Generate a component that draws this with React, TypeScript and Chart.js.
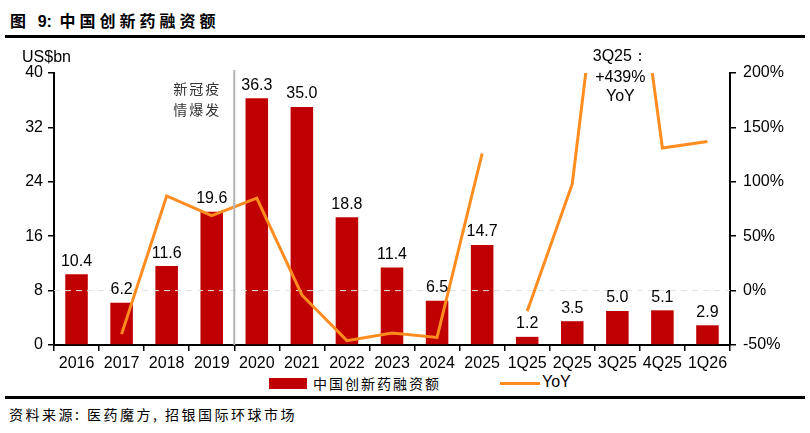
import React, { useEffect, useRef } from 'react';
import { Chart, registerables } from 'chart.js';

Chart.register(...registerables);

// Periods: full years, then quarters
const categories = ['2016', '2017', '2018', '2019', '2020', '2021', '2022', '2023', '2024', '2025', '1Q25', '2Q25', '3Q25', '4Q25', '1Q26'];
// China innovative-drug financing, US$bn
const fundingUsdBn = [10.4, 6.2, 11.6, 19.6, 36.3, 35.0, 18.8, 11.4, 6.5, 14.7, 1.2, 3.5, 5.0, 5.1, 2.9];
// Year-on-year change, %
const yoyPct = [null, -40, 87, 69, 85, -4, -46, -39, -43, 126, -19, 98, 439, 131, 137];

const leftTickStep = 8;
const rightTickStep = 50;

const RED = '#C00000';
const ORANGE = '#FF8C1E';
const FONT = 'Arial, "Liberation Sans", sans-serif';
const CJK = '"Noto Sans CJK SC", "Noto Sans", sans-serif';

const overlay = {
  id: 'overlay',
  afterDatasetDraw(chart: any, args: any) {
    if (args.index !== 0) return;
    const { ctx, chartArea, scales } = chart;
    const yz = scales.y1.getPixelForValue(0);
    ctx.save();
    ctx.strokeStyle = '#e2e2e2';
    ctx.lineWidth = 1;
    ctx.setLineDash([6, 5]);
    ctx.beginPath();
    ctx.moveTo(chartArea.left, yz);
    ctx.lineTo(chartArea.right, yz);
    ctx.stroke();
    ctx.restore();
  },
  afterDatasetsDraw(chart: any) {
    const { ctx, chartArea, scales } = chart;
    const x = scales.x;
    ctx.save();

    // separator before the pandemic years
    const sx = (x.getPixelForValue(3) + x.getPixelForValue(4)) / 2;
    ctx.strokeStyle = '#b3b3b3';
    ctx.lineWidth = 2;
    ctx.beginPath();
    ctx.moveTo(sx, chartArea.top - 3);
    ctx.lineTo(sx, chartArea.bottom);
    ctx.stroke();

    // value labels above bars
    const meta = chart.getDatasetMeta(0);
    ctx.fillStyle = '#000';
    ctx.font = `16px ${FONT}`;
    ctx.textAlign = 'center';
    ctx.textBaseline = 'bottom';
    meta.data.forEach((bar: any, i: number) => {
      ctx.fillText(fundingUsdBn[i].toFixed(1), bar.x, bar.y - 5);
    });

    // unit label
    ctx.textAlign = 'left';
    ctx.textBaseline = 'middle';
    ctx.fillText('US$bn', chartArea.left - 32, chartArea.top - 15);

    // pandemic note
    ctx.font = `14px ${CJK}`;
    ctx.textAlign = 'right';
    ctx.fillStyle = '#333';
    (ctx as any).letterSpacing = '2px';
    ctx.fillText('新冠疫', sx - 13, chartArea.top + 16);
    ctx.fillText('情爆发', sx - 13, chartArea.top + 37);
    (ctx as any).letterSpacing = '0px';

    // off-scale quarter note
    const qx = x.getPixelForValue(12) + 3;
    ctx.fillStyle = '#000';
    ctx.font = `16px ${FONT}`;
    ctx.textAlign = 'center';
    ctx.fillText('3Q25：', qx, chartArea.top - 16);
    ctx.fillText('+439%', qx, chartArea.top + 5);
    ctx.fillText('YoY', qx, chartArea.top + 24);
    ctx.restore();
  },
};

export default function App() {
  const canvasRef = useRef<HTMLCanvasElement | null>(null);

  useEffect(() => {
    const canvas = canvasRef.current;
    if (!canvas) return;
    const tickFont = { size: 16, family: FONT };
    const chart = new Chart(canvas, {
      type: 'bar',
      data: {
        labels: categories,
        datasets: [
          {
            type: 'bar',
            label: '中国创新药融资额',
            data: fundingUsdBn,
            backgroundColor: RED,
            yAxisID: 'y',
            barPercentage: 0.5,
            categoryPercentage: 1,
            order: 2,
          },
          {
            type: 'line',
            label: 'YoY',
            data: yoyPct as any,
            borderColor: ORANGE,
            backgroundColor: ORANGE,
            borderWidth: 3,
            pointRadius: 0,
            tension: 0,
            yAxisID: 'y1',
            order: 1,
            segment: {
              borderColor: (c: any) => (c.p0DataIndex === 9 ? 'rgba(0,0,0,0)' : undefined),
            },
          },
        ],
      },
      options: {
        responsive: false,
        animation: false,
        layout: { padding: { top: 32, left: 0, right: 0, bottom: 0 } },
        plugins: { legend: { display: false }, tooltip: { enabled: false } },
        scales: {
          x: {
            grid: { offset: true, drawOnChartArea: false, drawTicks: true, tickLength: 6, color: '#000', lineWidth: 1.5 },
            border: { display: true, color: '#000', width: 2 },
            ticks: { font: tickFont, color: '#000', padding: 3, maxRotation: 0, autoSkip: false },
            afterFit: (s: any) => { s.height = 28; },
          },
          y: {
            position: 'left',
            min: 0,
            max: 40,
            ticks: { stepSize: leftTickStep, font: tickFont, color: '#000', padding: 5 },
            grid: { drawOnChartArea: false, tickLength: 6, color: '#000', lineWidth: 1.5 },
            border: { display: true, color: '#000', width: 2 },
            afterFit: (s: any) => { s.width = 54; },
          },
          y1: {
            position: 'right',
            min: -50,
            max: 200,
            ticks: { stepSize: rightTickStep, font: tickFont, color: '#000', padding: 7, callback: (v: any) => `${v}%` },
            grid: { drawOnChartArea: false, tickLength: 6, color: '#000', lineWidth: 1.5 },
            border: { display: true, color: '#000', width: 2 },
            afterFit: (s: any) => { s.width = 80; },
          },
        },
      },
      plugins: [overlay],
    } as any);
    return () => chart.destroy();
  }, []);

  return (
    <div style={{ position: 'fixed', left: 0, top: 0, width: 810, height: 433, background: '#fff', overflow: 'hidden' }}>
      <div style={{ position: 'absolute', left: 10, top: 8, font: `bold 16px ${CJK}`, letterSpacing: 4, color: '#000', whiteSpace: 'nowrap' }}>
        图 <span style={{ fontFamily: FONT, letterSpacing: 0 }}>9:</span> 中国创新药融资额
      </div>
      <div style={{ position: 'absolute', left: 5, top: 35, width: 800, height: 3, background: '#000' }} />
      <canvas ref={canvasRef} width={810} height={332} style={{ position: 'absolute', left: 0, top: 41 }} />
      <div style={{ position: 'absolute', left: 269, top: 378, width: 38, height: 11, background: RED }} />
      <div style={{ position: 'absolute', left: 313, top: 373, font: `14px ${CJK}`, letterSpacing: 2, color: '#000', whiteSpace: 'nowrap' }}>
        中国创新药融资额
      </div>
      <div style={{ position: 'absolute', left: 500, top: 382, width: 40, height: 3, background: ORANGE }} />
      <div style={{ position: 'absolute', left: 542, top: 373, font: `16px ${FONT}`, color: '#000' }}>YoY</div>
      <div style={{ position: 'absolute', left: 5, top: 396, width: 800, height: 3, background: '#000' }} />
      <div style={{ position: 'absolute', left: 9, top: 404, font: `14px ${CJK}`, letterSpacing: 2.5, color: '#000', whiteSpace: 'nowrap' }}>
        资料来源: 医药魔方, 招银国际环球市场
      </div>
    </div>
  );
}
